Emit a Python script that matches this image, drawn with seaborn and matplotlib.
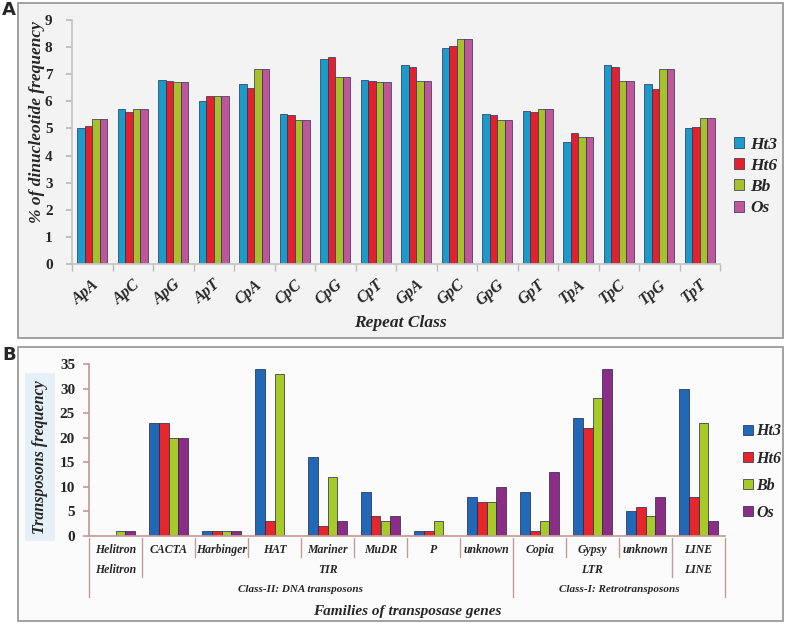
#%%
import numpy as np
import pandas as pd
import seaborn as sns
from matplotlib import pyplot as plt
from matplotlib.patches import Rectangle

#%% DATA

genomes = ['Ht3', 'Ht6', 'Bb', 'Os']

# panel A: dinucleotide frequency (%)
dinucs = ['ApA', 'ApC', 'ApG', 'ApT', 'CpA', 'CpC', 'CpG', 'CpT',
          'GpA', 'GpC', 'GpG', 'GpT', 'TpA', 'TpC', 'TpG', 'TpT']
ht3_a = [5.0, 5.7, 6.8, 6.0, 6.65, 5.55, 7.55, 6.8, 7.35, 7.95, 5.55, 5.65, 4.5, 7.35, 6.65, 5.0]
ht6_a = [5.1, 5.6, 6.75, 6.2, 6.5, 5.5, 7.65, 6.75, 7.25, 8.05, 5.5, 5.6, 4.85, 7.25, 6.45, 5.05]
bb_a = [5.35, 5.7, 6.7, 6.2, 7.2, 5.3, 6.9, 6.7, 6.75, 8.3, 5.3, 5.7, 4.7, 6.75, 7.2, 5.4]
os_a = [5.35, 5.7, 6.7, 6.2, 7.2, 5.3, 6.9, 6.7, 6.75, 8.3, 5.3, 5.7, 4.7, 6.75, 7.2, 5.4]

# panel B: transposon frequency
families = ['Helitron', 'CACTA', 'Harbinger', 'HAT', 'Mariner', 'MuDR', 'P', 'unknown',
            'Copia', 'Gypsy', 'unknown', 'LINE']
ht3_b = [0, 23, 1, 34, 16, 9, 1, 8, 9, 24, 5, 30]
ht6_b = [0, 23, 1, 3, 2, 4, 1, 7, 1, 22, 6, 8]
bb_b = [1, 20, 1, 33, 12, 3, 3, 7, 3, 28, 4, 23]
os_b = [1, 20, 1, 0, 3, 4, 0, 10, 13, 34, 8, 3]

superfam = ['Helitron', 'TIR', 'LTR', 'LINE']
superfam_span = [(0, 0), (1, 7), (8, 10), (11, 11)]
classes = ['Class-II: DNA transposons', 'Class-I: Retrotransposons']
class_span = [(0, 7), (8, 11)]

pal_a = ['#1b9bc8', '#e2202e', '#a8c12a', '#c0569a']
pal_b = ['#2168b6', '#e6262b', '#a6cb28', '#8b2c85']

df_a = pd.DataFrame({'dinuc': dinucs * 4,
                     'genome': np.repeat(genomes, len(dinucs)),
                     'freq': ht3_a + ht6_a + bb_a + os_a})

# unique keys because 'unknown' appears twice
slots = [f'{i}_{f}' for i, f in enumerate(families)]
df_b = pd.DataFrame({'slot': slots * 4,
                     'genome': np.repeat(genomes, len(families)),
                     'freq': ht3_b + ht6_b + bb_b + os_b})

#%% FIGURE

sns.set_theme(style='white')
plt.rcParams['font.family'] = ['Liberation Serif', 'DejaVu Serif']
W, H = 786, 624
fig = plt.figure(figsize=(W / 100, H / 100), dpi=100)
fig.patch.set_facecolor('white')

def fx(px):
    return px / W

def fy(py):
    return 1 - py / H

bi = dict(fontweight='bold', fontstyle='italic')

# panel boxes
fig.patches.append(Rectangle((fx(18), fy(338)), fx(765), (338 - 3) / H, transform=fig.transFigure,
                             facecolor='#f3f3f3', edgecolor='#9a9a9a', lw=1.3, zorder=-5))
fig.patches.append(Rectangle((fx(18), fy(621)), fx(765), (621 - 347) / H, transform=fig.transFigure,
                             facecolor='#fbfbfb', edgecolor='#9a9a9a', lw=1.3, zorder=-5))
fig.text(fx(2), fy(10), 'A', fontsize=13, fontweight='bold', family='DejaVu Sans', va='center')
fig.text(fx(2), fy(355), 'B', fontsize=13, fontweight='bold', family='DejaVu Sans', va='center')

#%% PANEL A

axA = fig.add_axes([fx(72), fy(264), fx(648), 244 / H])
sns.barplot(data=df_a, x='dinuc', y='freq', hue='genome', order=dinucs, hue_order=genomes,
            palette=pal_a, saturation=1, width=0.74, edgecolor='#2a2f5a', linewidth=0.5, ax=axA)
axA.set_facecolor('none')
axA.set_xlim(-0.5, len(dinucs) - 0.5)
axA.set_ylim(0, 9)
axA.set_yticks(range(10))
axA.set_yticklabels([str(v) for v in range(10)], fontsize=11, fontweight='bold')
axA.tick_params(axis='y', left=True, length=4, color='#bbbbbb', pad=10)
axA.set_xticks(range(len(dinucs)))
axA.set_xticklabels(dinucs, rotation=40, ha='right', va='top', rotation_mode='anchor',
                    fontsize=11.5, **bi)
axA.tick_params(axis='x', which='major', length=0, pad=9)
axA.set_xticks(np.arange(-0.5, len(dinucs), 1), minor=True)
axA.tick_params(axis='x', which='minor', bottom=True, length=5, color='#bbbbbb')
for s in ['top', 'right']:
    axA.spines[s].set_visible(False)
for s in ['left', 'bottom']:
    axA.spines[s].set_color('#c4c4c4')
axA.set_xlabel('')
axA.set_ylabel('')
fig.text(fx(37), fy(122), '% of dinucleotide frequency', rotation=90, fontsize=12.5,
         ha='center', va='center', **bi)
axA.legend(loc='upper left', bbox_to_anchor=(fx(718), fy(121)), bbox_transform=fig.transFigure,
           frameon=False, handlelength=0.6, handleheight=0.6, handletextpad=0.35, labelspacing=0.3,
           prop=dict(family='Liberation Serif', weight='bold', style='italic', size=12.5))
fig.text(fx(400), fy(323), 'Repeat Class', fontsize=12.5, ha='center', va='center', **bi)

#%% PANEL B

axB = fig.add_axes([fx(89), fy(536), fx(636), 172 / H])
sns.barplot(data=df_b, x='slot', y='freq', hue='genome', order=slots, hue_order=genomes,
            palette=pal_b, saturation=1, width=0.74, edgecolor='#22224a', linewidth=0.5, ax=axB)
axB.set_facecolor('none')
axB.set_xlim(-0.5, len(families) - 0.5)
axB.set_ylim(0, 35)
axB.set_yticks(range(0, 36, 5))
axB.set_yticklabels([str(v) for v in range(0, 36, 5)], fontsize=11, fontweight='bold')
axB.tick_params(axis='y', left=True, length=4, color='#c49c96', pad=6)
axB.set_xticks([])
axB.set_xlabel('')
axB.set_ylabel('')
for s in ['top', 'right']:
    axB.spines[s].set_visible(False)
for s in ['left', 'bottom']:
    axB.spines[s].set_color('#c49c96')

# category table under the axis
tr = axB.get_xaxis_transform()
ah = 172.0
line_c = '#c49c96'
n = len(families)
for i, f in enumerate(families):
    axB.text(i, -14 / ah, f, transform=tr, ha='center', va='center', fontsize=8.5, clip_on=False, **bi)
for b in range(n + 1):
    axB.plot([b - 0.5, b - 0.5], [-2 / ah, -21 / ah], transform=tr, color=line_c, lw=1, clip_on=False)
for name, (a, b) in zip(superfam, superfam_span):
    axB.text((a + b) / 2, -34 / ah, name, transform=tr, ha='center', va='center', fontsize=8.5,
             clip_on=False, **bi)
for b in [1, 11]:
    axB.plot([b - 0.5, b - 0.5], [-21 / ah, -41 / ah], transform=tr, color=line_c, lw=1, clip_on=False)
for name, (a, b) in zip(classes, class_span):
    axB.text((a + b) / 2, -54 / ah, name, transform=tr, ha='center', va='center', fontsize=8,
             clip_on=False, **bi)
for b in [0, 8, 12]:
    axB.plot([b - 0.5, b - 0.5], [-21 / ah, -61 / ah], transform=tr, color=line_c, lw=1, clip_on=False)

axB.legend(loc='upper left', bbox_to_anchor=(fx(729), fy(409)), bbox_transform=fig.transFigure,
           frameon=False, handlelength=0.6, handleheight=0.6, handletextpad=0.2, labelspacing=0.7,
           prop=dict(family='Liberation Serif', weight='bold', style='italic', size=11.5))
fig.text(fx(40), fy(457), 'Transposons frequency', rotation=90, fontsize=11.5, ha='center', va='center',
         bbox=dict(boxstyle='square,pad=0.45', fc='#e6f0f7', ec='none'), **bi)
fig.text(fx(407), fy(612), 'Families of transposase genes', fontsize=11, ha='center', va='center', **bi)

fig.savefig('out.png', dpi=100)
